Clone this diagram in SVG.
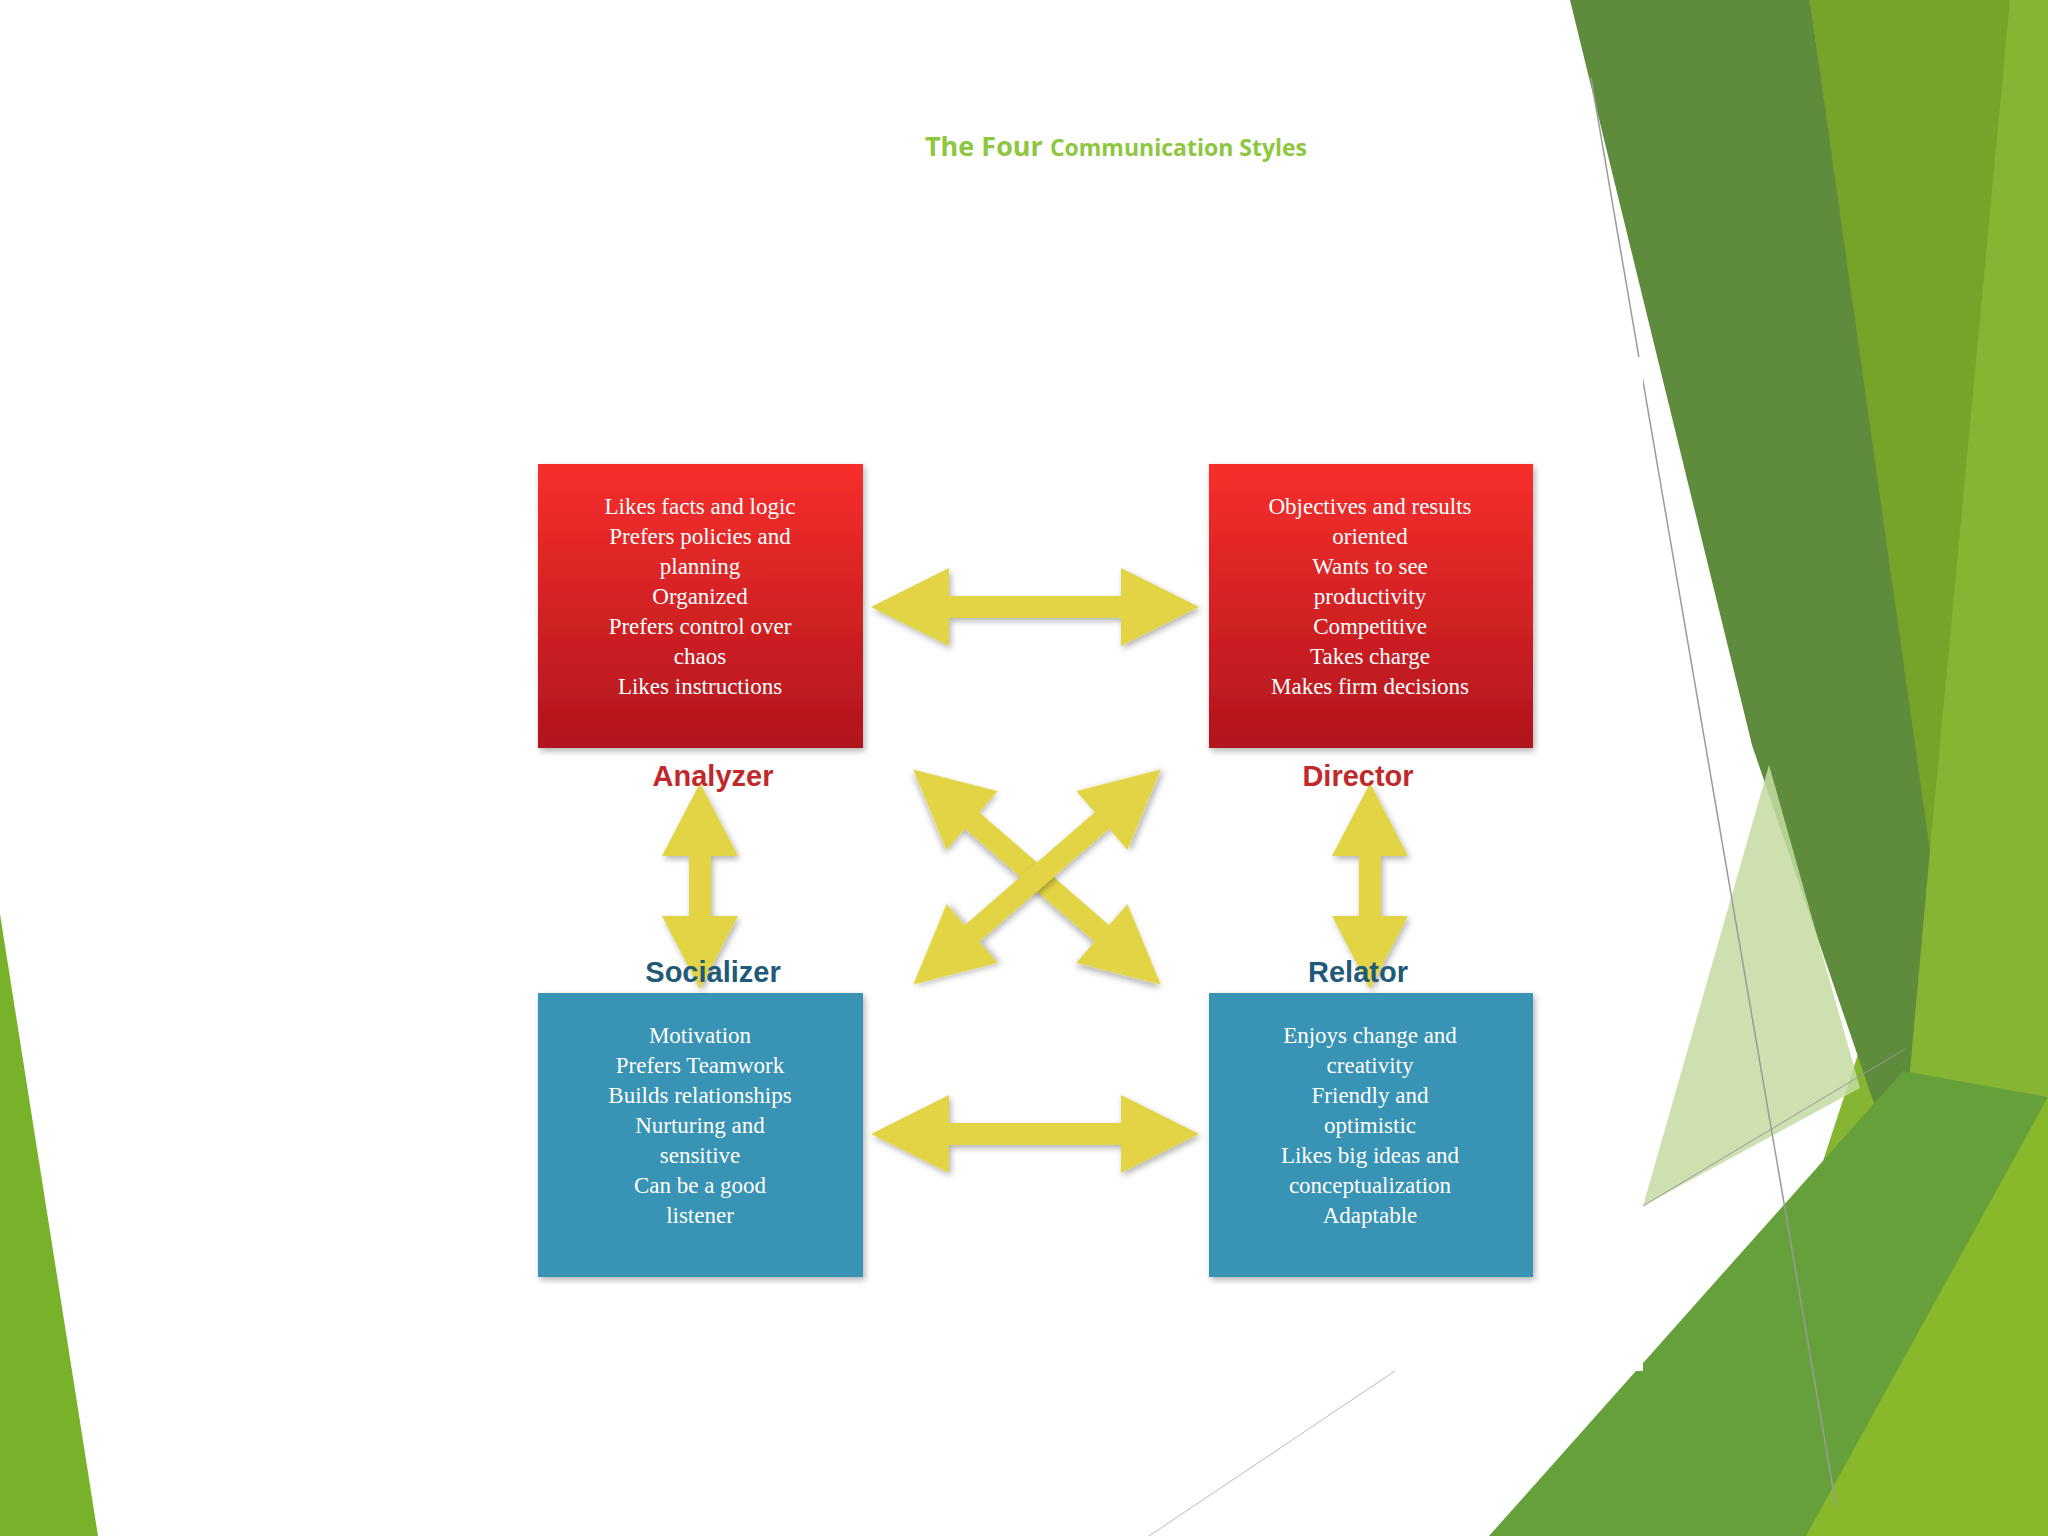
<svg xmlns="http://www.w3.org/2000/svg" width="2048" height="1536" viewBox="0 0 2048 1536">
<style>
.bt{font-family:"Liberation Serif",serif;font-size:23px;fill:#fff;text-anchor:middle}
.lb{font-family:"Liberation Sans",Arial,sans-serif;font-size:29px;font-weight:bold;text-anchor:middle}
.arr{fill:#e3d444;filter:url(#sh)}
</style>
<defs>
<linearGradient id="rg" x1="0" y1="0" x2="0" y2="1"><stop offset="0" stop-color="#f72f2c"/><stop offset="1" stop-color="#b0151d"/></linearGradient>
<filter id="sh" x="-20%" y="-20%" width="140%" height="140%"><feDropShadow dx="2" dy="3" stdDeviation="3" flood-color="#000" flood-opacity="0.3"/></filter>
<path id="ah" d="M-164,0 L-86,-39 L-86,-11 L86,-11 L86,-39 L164,0 L86,39 L86,11 L-86,11 L-86,39 Z"/>
<path id="av" d="M0,-103 L-38,-30 L-11,-30 L-11,30 L-38,30 L0,103 L38,30 L11,30 L11,-30 L38,-30 Z"/>
</defs>
<rect width="2048" height="1536" fill="#fff"/>
<g id="background">
<polygon points="0,914 98,1536 0,1536" fill="#78b22a"/>
<polygon points="1810,0 2048,0 2048,1536 1700,1536 1925,850" fill="#86b533"/>
<polygon points="1810,0 2010,0 1930,850" fill="#76a428"/>
<polygon points="1570,0 1810,0 1930,850 1900,1180 1752,745" fill="#5e8b3c"/>
<polygon points="1769,765 1643,1206 1860,1088" fill="#c6daa2" opacity="0.85"/>
<polygon points="1489,1536 1903,1071 2048,1097 2048,1536" fill="#66a03b"/>
<polygon points="1806,1536 2048,1097 2048,1536" fill="#8ab82b"/>
<line x1="1591" y1="78" x2="1836" y2="1506" stroke="#9a9a9a" stroke-width="1.5"/>
<line x1="1643" y1="1206" x2="1905" y2="1049" stroke="#999" stroke-width="1"/>
<rect x="500" y="357" width="1143" height="1014" fill="#fff"/>
<line x1="1395" y1="1371" x2="1149" y2="1536" stroke="#bbb" stroke-width="1"/>
</g>
<text x="1116" y="156" font-family="'Open Sans','Liberation Sans',sans-serif" font-weight="bold" fill="#8dc63f" text-anchor="middle"><tspan font-size="27">The Four </tspan><tspan font-size="23">Communication Styles</tspan></text>
<g id="connectors">
<use href="#ah" x="1035" y="607" class="arr"/>
<use href="#ah" x="1035" y="1134" class="arr"/>
<use href="#av" x="700" y="886" class="arr"/>
<use href="#av" x="1370" y="886" class="arr"/>
<use href="#ah" transform="translate(1037,877) rotate(41)" class="arr"/>
<use href="#ah" transform="translate(1037,877) rotate(-41)" class="arr"/>
</g>
<g id="analyzer">
<rect x="538" y="464" width="325" height="284" fill="url(#rg)" filter="url(#sh)"/>
<text class="bt"><tspan x="700" y="514">Likes facts and logic</tspan><tspan x="700" y="544">Prefers policies and</tspan><tspan x="700" y="574">planning</tspan><tspan x="700" y="604">Organized</tspan><tspan x="700" y="634">Prefers control over</tspan><tspan x="700" y="664">chaos</tspan><tspan x="700" y="694">Likes instructions</tspan></text>
<text class="lb" x="713" y="786" fill="#c0282a">Analyzer</text>
</g>
<g id="director">
<rect x="1209" y="464" width="324" height="284" fill="url(#rg)" filter="url(#sh)"/>
<text class="bt"><tspan x="1370" y="514">Objectives and results</tspan><tspan x="1370" y="544">oriented</tspan><tspan x="1370" y="574">Wants to see</tspan><tspan x="1370" y="604">productivity</tspan><tspan x="1370" y="634">Competitive</tspan><tspan x="1370" y="664">Takes charge</tspan><tspan x="1370" y="694">Makes firm decisions</tspan></text>
<text class="lb" x="1358" y="786" fill="#c0282a">Director</text>
</g>
<g id="socializer">
<rect x="538" y="993" width="325" height="284" fill="#3893b4" filter="url(#sh)"/>
<text class="bt"><tspan x="700" y="1043">Motivation</tspan><tspan x="700" y="1073">Prefers Teamwork</tspan><tspan x="700" y="1103">Builds relationships</tspan><tspan x="700" y="1133">Nurturing and</tspan><tspan x="700" y="1163">sensitive</tspan><tspan x="700" y="1193">Can be a good</tspan><tspan x="700" y="1223">listener</tspan></text>
<text class="lb" x="713" y="982" fill="#1f5a78">Socializer</text>
</g>
<g id="relator">
<rect x="1209" y="993" width="324" height="284" fill="#3893b4" filter="url(#sh)"/>
<text class="bt"><tspan x="1370" y="1043">Enjoys change and</tspan><tspan x="1370" y="1073">creativity</tspan><tspan x="1370" y="1103">Friendly and</tspan><tspan x="1370" y="1133">optimistic</tspan><tspan x="1370" y="1163">Likes big ideas and</tspan><tspan x="1370" y="1193">conceptualization</tspan><tspan x="1370" y="1223">Adaptable</tspan></text>
<text class="lb" x="1358" y="982" fill="#1f5a78">Relator</text>
</g>
</svg>
